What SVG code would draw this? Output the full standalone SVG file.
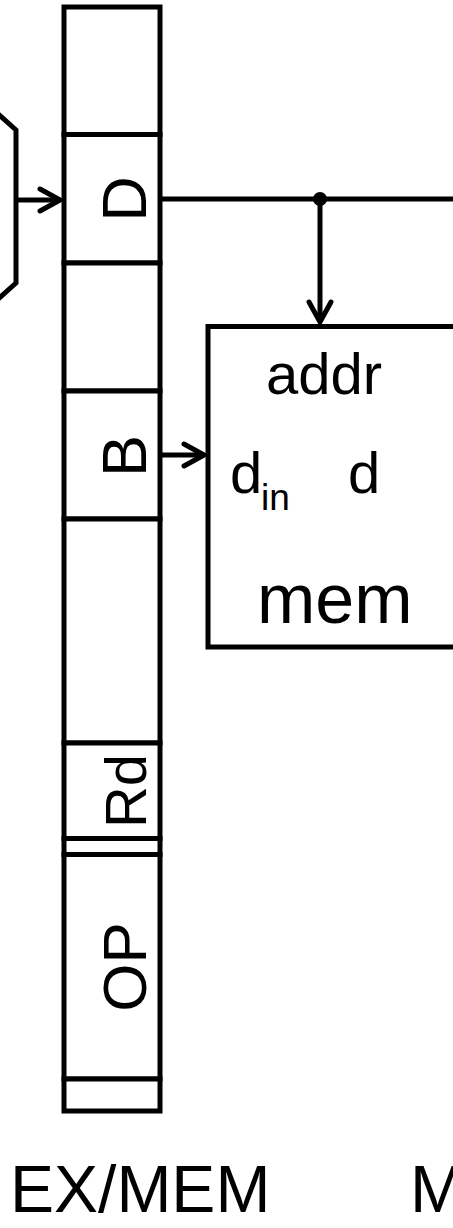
<svg xmlns="http://www.w3.org/2000/svg" width="453" height="1228" viewBox="0 0 453 1228">
  <style>
    .box { fill: #ffffff; stroke: #000000; stroke-width: 5; }
    .wire { fill: none; stroke: #000000; stroke-width: 5; }
    .lbl { font-family: "Liberation Sans", Arial, sans-serif; fill: #000000; }
  </style>
  <defs>
    <marker id="chev" markerUnits="userSpaceOnUse" viewBox="-26 -16 32 32" markerWidth="32" markerHeight="32" refX="0" refY="0" orient="auto">
      <path d="M-20,-11 L0,0 L-20,11" fill="none" stroke="#000000" stroke-width="5" stroke-linejoin="round" stroke-linecap="round"/>
    </marker>
  </defs>

  <rect width="453" height="1228" fill="#ffffff"/>

  <!-- ALU / mux outline at the left edge -->
  <g id="mux">
    <polyline class="wire" points="-3,113 16,130 16,283 -3,300"/>
  </g>

  <!-- EX/MEM pipeline register, one rect per field -->
  <g id="reg-top"><rect class="box" x="64" y="7" width="96" height="127.5"/></g>
  <g id="reg-D">
    <rect class="box" x="64" y="134.5" width="96" height="128.5"/>
    <text class="lbl" font-size="63" text-anchor="middle" transform="translate(146,199) rotate(-90)">D</text>
  </g>
  <g id="reg-field3"><rect class="box" x="64" y="263" width="96" height="128"/></g>
  <g id="reg-B">
    <rect class="box" x="64" y="391" width="96" height="128"/>
    <text class="lbl" font-size="63" text-anchor="middle" transform="translate(146,456) rotate(-90)">B</text>
  </g>
  <g id="reg-field5"><rect class="box" x="64" y="519" width="96" height="224"/></g>
  <g id="reg-Rd">
    <rect class="box" x="64" y="743" width="96" height="95.5"/>
    <text class="lbl" font-size="58" text-anchor="middle" transform="translate(146,791) rotate(-90)">Rd</text>
  </g>
  <g id="reg-gap"><rect class="box" x="64" y="838.5" width="96" height="16"/></g>
  <g id="reg-OP">
    <rect class="box" x="64" y="854.5" width="96" height="224.5"/>
    <text class="lbl" font-size="62" text-anchor="middle" transform="translate(146,967) rotate(-90)">OP</text>
  </g>
  <g id="reg-bottom"><rect class="box" x="64" y="1079" width="96" height="32"/></g>

  <!-- data memory -->
  <g id="mem">
    <rect class="box" x="208" y="326.5" width="300" height="320.5"/>
    <text class="lbl" font-size="58" x="266" y="394">addr</text>
    <text class="lbl" font-size="58" x="230" y="493">d</text>
    <text class="lbl" font-size="37" x="261" y="510">in</text>
    <text class="lbl" font-size="58" x="348" y="493">d</text>
    <text class="lbl" font-size="70" x="257" y="623">mem</text>
  </g>

  <!-- stage labels -->
  <g id="stage-labels">
    <text class="lbl" font-size="66" x="10" y="1212">EX/MEM</text>
    <text class="lbl" font-size="66" x="410" y="1212">M</text>
  </g>

  <!-- wires -->
  <g id="connectors">
    <line class="wire" x1="18" y1="200" x2="60" y2="200" marker-end="url(#chev)"/>
    <line class="wire" x1="162" y1="199" x2="455" y2="199"/>
    <circle cx="320" cy="199" r="7" fill="#000000"/>
    <line class="wire" x1="320" y1="199" x2="320" y2="322" marker-end="url(#chev)"/>
    <line class="wire" x1="162" y1="455" x2="204" y2="455" marker-end="url(#chev)"/>
  </g>
</svg>
